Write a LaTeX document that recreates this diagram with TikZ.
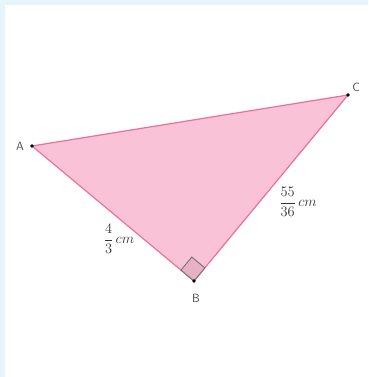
\documentclass[tikz,border=0pt]{standalone}
\usepackage{amsmath,amssymb}
\usepackage{tikz}
\usetikzlibrary{calc}

\definecolor{triFill}{HTML}{F9C2D6}
\definecolor{triEdge}{HTML}{EE6F9C}
\definecolor{frameBlue}{HTML}{E6F5FA}
\definecolor{angFill}{HTML}{E8B0C4}

\tikzset{
  vertex/.style={circle,fill=black,inner sep=0pt,minimum size=3.8pt},
  vlabel/.style={font=\sffamily\large,text=black!70},
  side/.style={font=\Large,text=black!80}
}

\begin{document}
\begin{tikzpicture}[x=1pt,y=-1pt]
\fill[frameBlue] (0,0) rectangle (368,377);
\fill[white] (5,5) rectangle (368,377);
\useasboundingbox (0,0) rectangle (368,377);
\coordinate (A) at (32,146);
\coordinate (B) at (194,281);
\coordinate (C) at (348,95);
\fill[triFill] (A) -- (B) -- (C) -- cycle;
\draw[triEdge, line width=1.2pt] (A) -- (B) -- (C) -- cycle;
% right angle at B
\coordinate (ba) at ($(B)!17pt!(A)$);
\coordinate (bc) at ($(B)!17pt!(C)$);
\filldraw[fill=angFill, draw=black!55, line width=0.9pt]
  (B) -- (ba) -- ($(ba)+(bc)-(B)$) -- (bc) -- cycle;
\node[vertex] (a) at (A) {};
\node[vertex] (b) at (B) {};
\node[vertex] (c) at (C) {};
\node[vlabel] (la) at (20,146) {A};
\node[vlabel] (lb) at (196,298) {B};
\node[vlabel] (lc) at (356,87) {C};
\node[side] (ab) at (119,239) {$\dfrac{4}{3}\,cm$};
\node[side] (bc2) at (298,202) {$\dfrac{55}{36}\,cm$};
\end{tikzpicture}
\end{document}
